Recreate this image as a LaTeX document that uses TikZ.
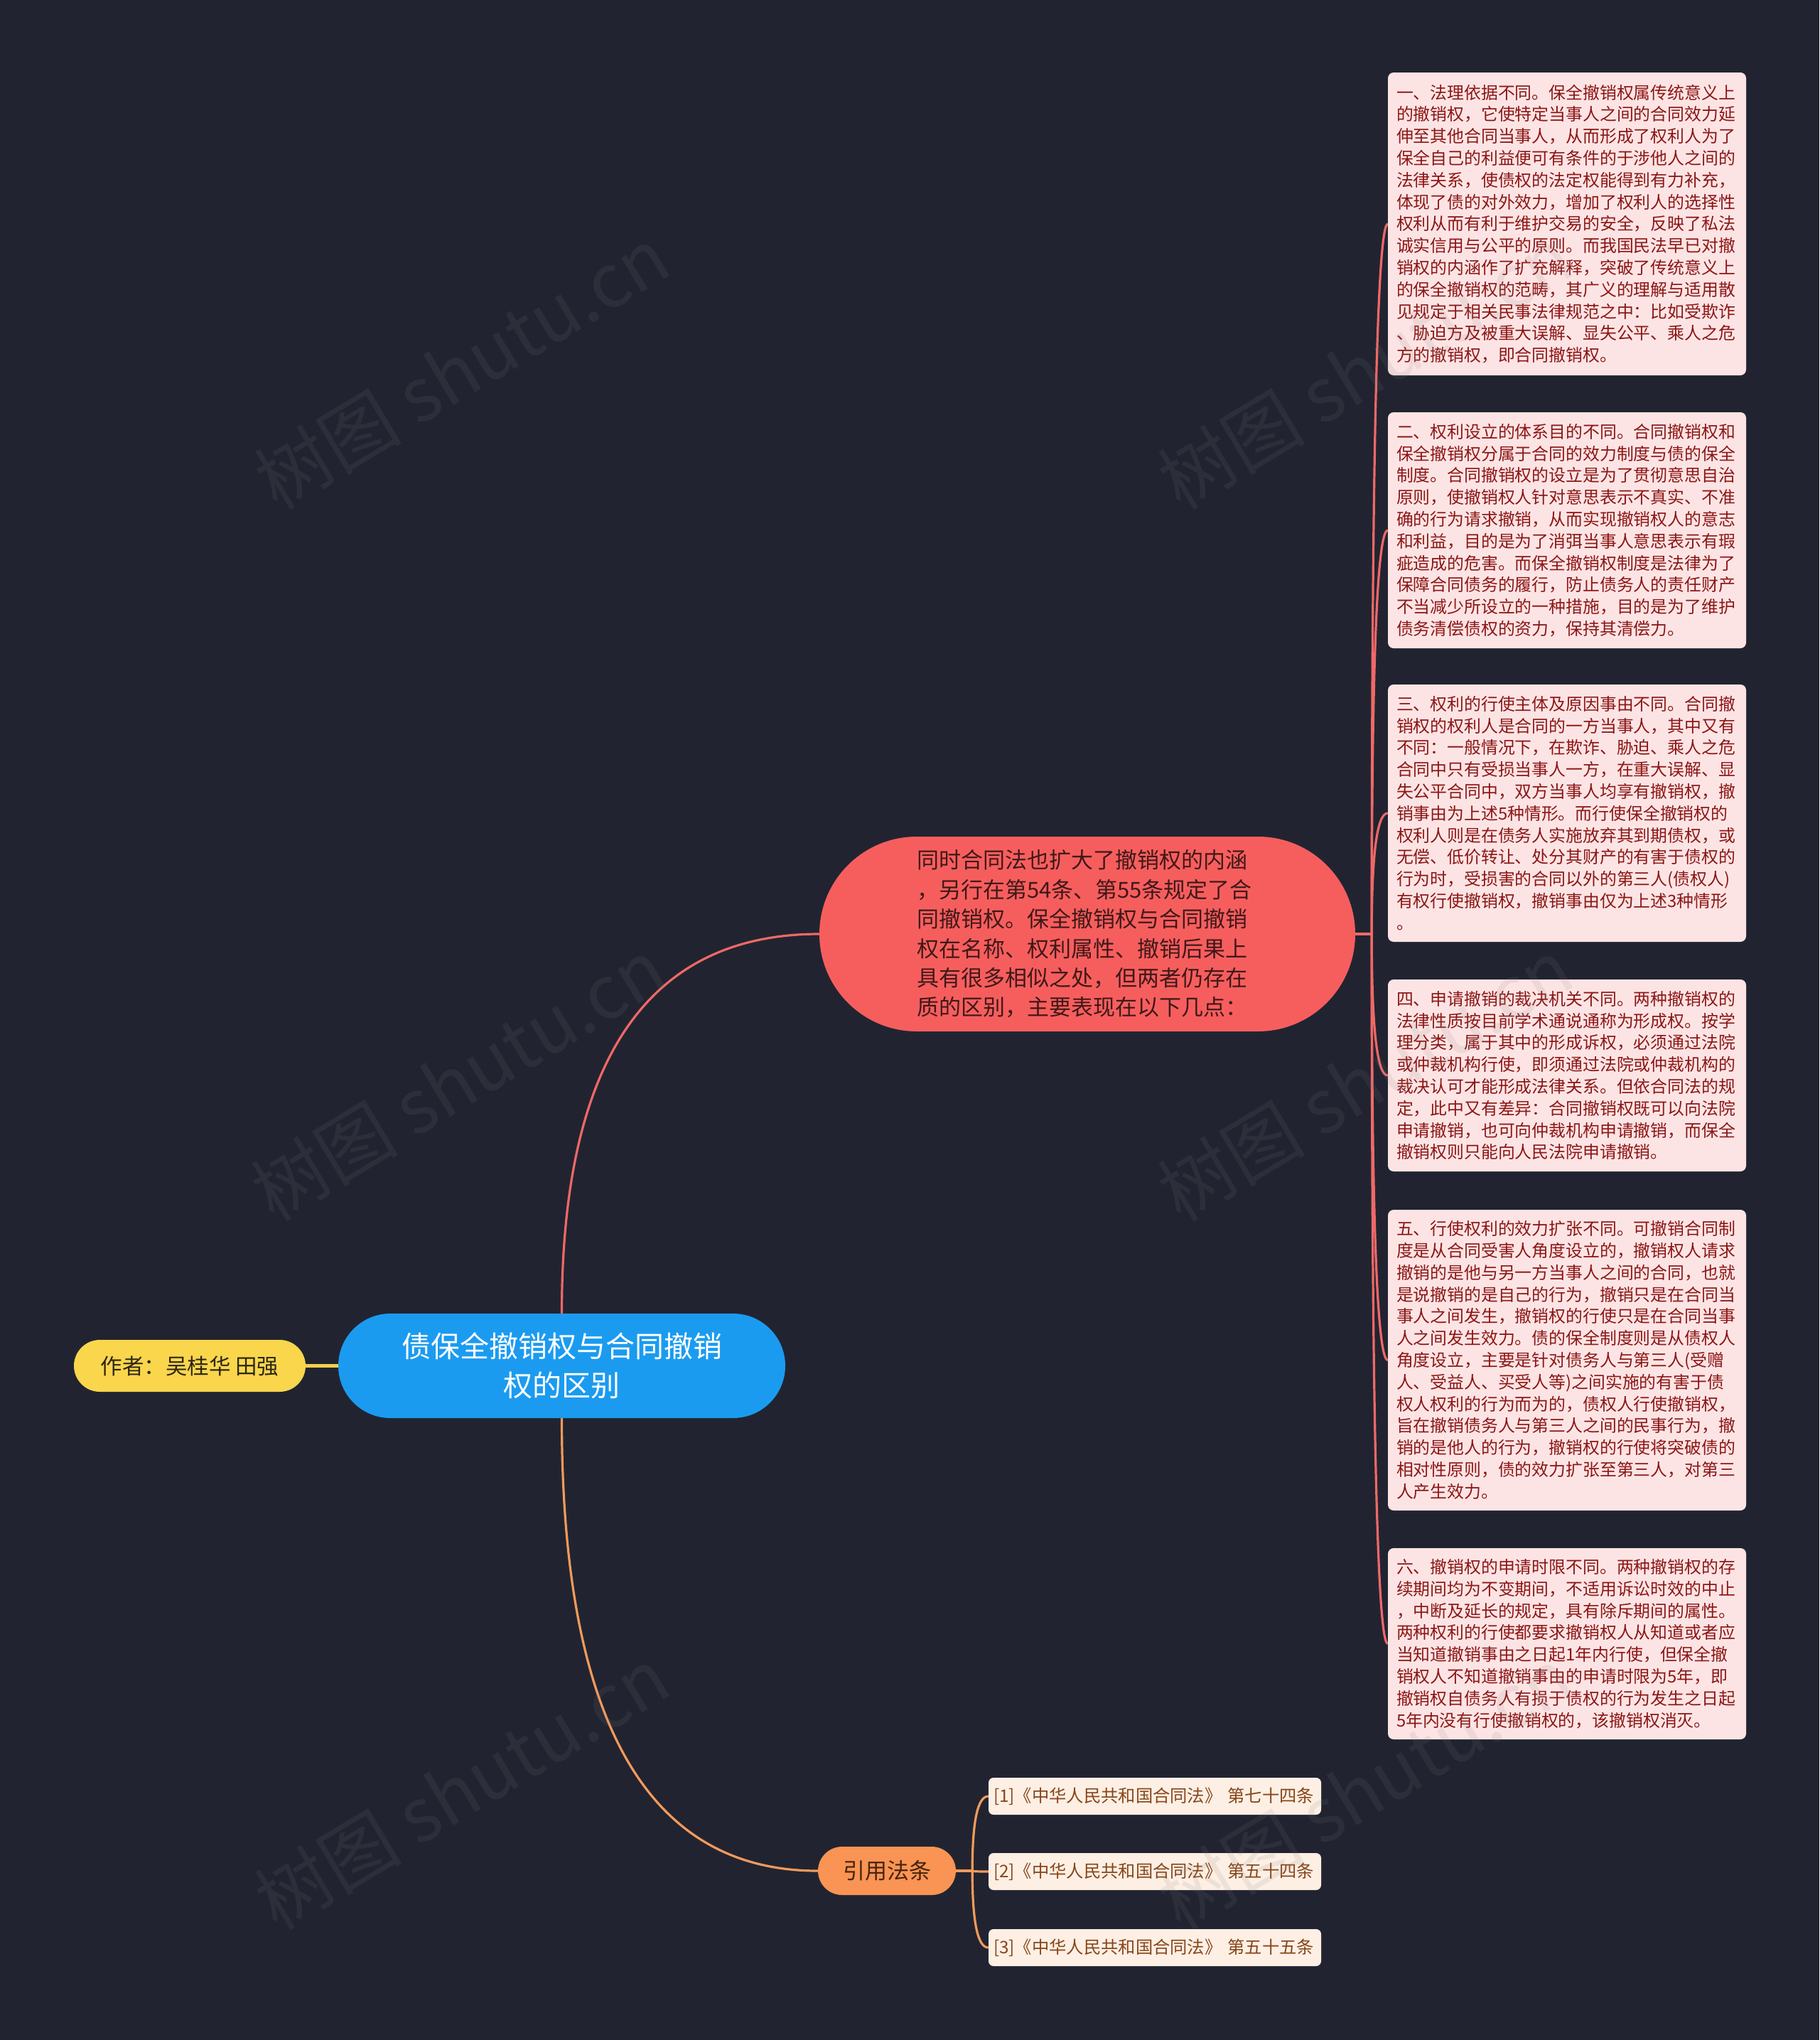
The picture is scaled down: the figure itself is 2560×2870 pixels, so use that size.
\documentclass[tikz,border=0pt]{standalone}
\usepackage{fontspec}
\setmainfont{Noto Sans CJK SC}
\usetikzlibrary{calc}
\definecolor{bgc}{RGB}{33,36,48}
\definecolor{rootblue}{RGB}{27,155,240}
\definecolor{mainred}{RGB}{246,94,94}
\definecolor{maintext}{RGB}{64,24,24}
\definecolor{redline}{RGB}{240,104,104}
\definecolor{pinkbox}{RGB}{253,228,228}
\definecolor{darkred}{RGB}{140,22,22}
\definecolor{yellownode}{RGB}{250,214,77}
\definecolor{yellowline}{RGB}{245,208,76}
\definecolor{authortext}{RGB}{45,38,20}
\definecolor{orangenode}{RGB}{249,148,84}
\definecolor{orangeline}{RGB}{243,154,92}
\definecolor{citetext}{RGB}{70,35,15}
\definecolor{peachbox}{RGB}{253,239,228}
\definecolor{refbrown}{RGB}{135,70,25}
\pgfdeclarelayer{bgl}
\pgfsetlayers{bgl,main}
\begin{document}
\begin{tikzpicture}[x=1pt,y=-1pt,
  rootnode/.style={fill=rootblue,text=white,minimum width=629,minimum height=147,rounded corners=73.5,inner sep=0,align=center,font=\fontsize{41}{55}\selectfont},
  mainnode/.style={fill=mainred,text=maintext,minimum width=754,minimum height=274,rounded corners=137,inner xsep=0,inner ysep=0,text width=480,align=left,font=\fontsize{31}{41.4}\selectfont},
  authornode/.style={fill=yellownode,text=authortext,minimum width=326,minimum height=73,rounded corners=36.5,inner sep=0,font=\fontsize{30.5}{36}\selectfont},
  citenode/.style={fill=orangenode,text=citetext,minimum width=194,minimum height=68,rounded corners=34,inner sep=0,font=\fontsize{31}{36}\selectfont},
  detailbox/.style={fill=pinkbox,text=darkred,rounded corners=8,text width=480,inner xsep=12,inner ysep=0,align=left,font=\fontsize{23.85}{30.8}\selectfont},
  refbox/.style={fill=peachbox,text=refbrown,rounded corners=7,text width=454,inner xsep=7,inner ysep=0,minimum height=52,align=left,font=\fontsize{24.3}{28}\selectfont},
  rline/.style={draw=redline,line width=3.2},
  oline/.style={draw=orangeline,line width=3.2},
  yline/.style={draw=yellowline,line width=5},
  wmark/.style={text=gray,opacity=0.12,rotate=31,font=\fontsize{104}{110}\selectfont,inner sep=0}
]
\begin{pgfonlayer}{bgl}
\fill[bgc] (0,0) rectangle (2560,2870);
\end{pgfonlayer}
\useasboundingbox (0,0) rectangle (2560,2870);

% nodes
\node[rootnode] (root) at (790.5,1921.5) {债保全撤销权与合同撤销\\权的区别};
\node[authornode] (author) at (267,1921.5) {作者：吴桂华 田强};
\node[mainnode] (red) at (1530,1314) {同时合同法也扩大了撤销权的内涵\\，另行在第54条、第55条规定了合\\同撤销权。保全撤销权与合同撤销\\权在名称、权利属性、撤销后果上\\具有很多相似之处，但两者仍存在\\质的区别，主要表现在以下几点：};
\node[citenode] (cite) at (1248,2632) {引用法条};

\node[detailbox,minimum height=426] (b1) at (2205,315) {一、法理依据不同。保全撤销权属传统意义上\\的撤销权，它使特定当事人之间的合同效力延\\伸至其他合同当事人，从而形成了权利人为了\\保全自己的利益便可有条件的于涉他人之间的\\法律关系，使债权的法定权能得到有力补充，\\体现了债的对外效力，增加了权利人的选择性\\权利从而有利于维护交易的安全，反映了私法\\诚实信用与公平的原则。而我国民法早已对撤\\销权的内涵作了扩充解释，突破了传统意义上\\的保全撤销权的范畴，其广义的理解与适用散\\见规定于相关民事法律规范之中：比如受欺诈\\、胁迫方及被重大误解、显失公平、乘人之危\\方的撤销权，即合同撤销权。};
\node[detailbox,minimum height=332] (b2) at (2205,746) {二、权利设立的体系目的不同。合同撤销权和\\保全撤销权分属于合同的效力制度与债的保全\\制度。合同撤销权的设立是为了贯彻意思自治\\原则，使撤销权人针对意思表示不真实、不准\\确的行为请求撤销，从而实现撤销权人的意志\\和利益，目的是为了消弭当事人意思表示有瑕\\疵造成的危害。而保全撤销权制度是法律为了\\保障合同债务的履行，防止债务人的责任财产\\不当减少所设立的一种措施，目的是为了维护\\债务清偿债权的资力，保持其清偿力。};
\node[detailbox,minimum height=362] (b3) at (2205,1144) {三、权利的行使主体及原因事由不同。合同撤\\销权的权利人是合同的一方当事人，其中又有\\不同：一般情况下，在欺诈、胁迫、乘人之危\\合同中只有受损当事人一方，在重大误解、显\\失公平合同中，双方当事人均享有撤销权，撤\\销事由为上述5种情形。而行使保全撤销权的\\权利人则是在债务人实施放弃其到期债权，或\\无偿、低价转让、处分其财产的有害于债权的\\行为时，受损害的合同以外的第三人(债权人)\\有权行使撤销权，撤销事由仅为上述3种情形\\。};
\node[detailbox,minimum height=270] (b4) at (2205,1513) {四、申请撤销的裁决机关不同。两种撤销权的\\法律性质按目前学术通说通称为形成权。按学\\理分类，属于其中的形成诉权，必须通过法院\\或仲裁机构行使，即须通过法院或仲裁机构的\\裁决认可才能形成法律关系。但依合同法的规\\定，此中又有差异：合同撤销权既可以向法院\\申请撤销，也可向仲裁机构申请撤销，而保全\\撤销权则只能向人民法院申请撤销。};
\node[detailbox,minimum height=423] (b5) at (2205,1913.5) {五、行使权利的效力扩张不同。可撤销合同制\\度是从合同受害人角度设立的，撤销权人请求\\撤销的是他与另一方当事人之间的合同，也就\\是说撤销的是自己的行为，撤销只是在合同当\\事人之间发生，撤销权的行使只是在合同当事\\人之间发生效力。债的保全制度则是从债权人\\角度设立，主要是针对债务人与第三人(受赠\\人、受益人、买受人等)之间实施的有害于债\\权人权利的行为而为的，债权人行使撤销权，\\旨在撤销债务人与第三人之间的民事行为，撤\\销的是他人的行为，撤销权的行使将突破债的\\相对性原则，债的效力扩张至第三人，对第三\\人产生效力。};
\node[detailbox,minimum height=269] (b6) at (2205,2312.5) {六、撤销权的申请时限不同。两种撤销权的存\\续期间均为不变期间，不适用诉讼时效的中止\\，中断及延长的规定，具有除斥期间的属性。\\两种权利的行使都要求撤销权人从知道或者应\\当知道撤销事由之日起1年内行使，但保全撤\\销权人不知道撤销事由的申请时限为5年，即\\撤销权自债务人有损于债权的行为发生之日起\\5年内没有行使撤销权的，该撤销权消灭。};

\node[refbox] (r1) at (1625,2527) {[1]《中华人民共和国合同法》 第七十四条};
\node[refbox] (r2) at (1625,2633) {[2]《中华人民共和国合同法》 第五十四条};
\node[refbox] (r3) at (1625,2740) {[3]《中华人民共和国合同法》 第五十五条};

\coordinate (rj) at ($(red.east)+(23,0)$);
\coordinate (oj) at ($(cite.east)+(23,0)$);

% connectors
\begin{pgfonlayer}{bgl}
\draw[yline] (author.east) -- (root.west);
\draw[rline] (root.north) .. controls ($(root.north)!0.667!(root.north|-red.west)$) and ($(red.west)!0.667!(root.north|-red.west)$) .. (red.west);
\draw[oline] (root.south) .. controls ($(root.south)!0.667!(root.south|-cite.west)$) and ($(cite.west)!0.667!(root.south|-cite.west)$) .. (cite.west);
\draw[rline] (red.east) -- (rj);
\foreach \b in {b1,b2,b3,b4,b5,b6}{
  \draw[rline] (rj) .. controls ($(rj)!0.667!(rj|-\b.west)$) and ($(\b.west)!0.667!(rj|-\b.west)$) .. (\b.west);
}
\draw[oline] (cite.east) -- (oj);
\foreach \r in {r1,r2,r3}{
  \draw[oline] (oj) .. controls ($(oj)!0.667!(oj|-\r.west)$) and ($(\r.west)!0.667!(oj|-\r.west)$) .. (\r.west);
}
\end{pgfonlayer}

% watermarks
\node[wmark] (w1) at (650,518) {树图 shutu.cn};
\node[wmark] (w2) at (645,1519) {树图 shutu.cn};
\node[wmark] (w3) at (650,2516) {树图 shutu.cn};
\node[wmark] (w4) at (1921,518) {树图 shutu.cn};
\node[wmark] (w5) at (1921,1519) {树图 shutu.cn};
\node[wmark] (w6) at (1921,2516) {树图 shutu.cn};
\end{tikzpicture}
\end{document}
